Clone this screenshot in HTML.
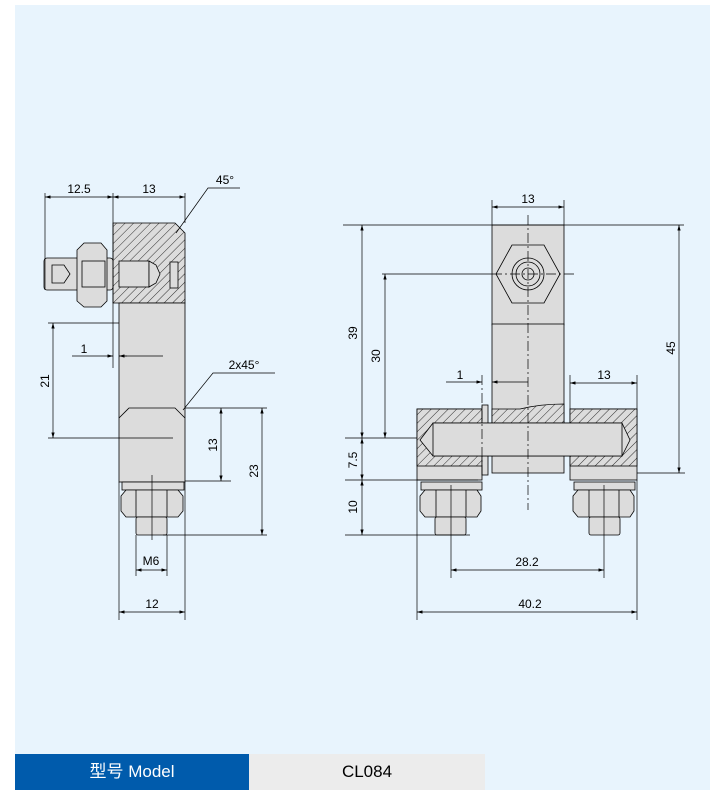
<!DOCTYPE html>
<html><head><meta charset="utf-8"><style>
body{margin:0;background:#fff;width:717px;height:796px;overflow:hidden;font-family:"Liberation Sans","Noto Sans CJK SC",sans-serif}
#p{position:absolute;left:15px;top:5px;width:695px;height:785px;background:#e8f4fd}
#b{position:absolute;left:15px;top:754px;width:234px;height:36px;background:#005bac;color:#fff;font-size:17px;line-height:36px;text-align:center}
#g{position:absolute;left:249px;top:754px;width:236px;height:36px;background:#ececec;color:#000;font-size:17px;line-height:36px;text-align:center}
svg{position:absolute;left:0;top:0}
</style></head><body>
<div id="p"></div>
<svg width="717" height="796" viewBox="0 0 717 796" font-family="Liberation Sans, sans-serif" font-size="12">
<defs>
<pattern id="h" width="6" height="6" patternUnits="userSpaceOnUse" patternTransform="rotate(45)">
<rect width="6" height="6" fill="#dcdcdc"/><line x1="0" y1="0" x2="0" y2="6" stroke="#000" stroke-width="0.8"/></pattern>
<marker id="a" viewBox="0 0 10 6" refX="10" refY="3" markerWidth="8" markerHeight="5" orient="auto-start-reverse"><path d="M0,0L10,3L0,6z" fill="#000"/></marker>
</defs>
<g stroke="#000" stroke-width="0.8" fill="#dcdcdc">
<!-- LEFT VIEW -->
<polygon points="113,223 175,223 185,233 185,303 113,303" fill="url(#h)"/>
<rect x="44" y="258" width="69" height="32" rx="3"/>
<polygon points="84,243 101,243 107,250 107,301 101,307 84,307 77,301 77,250"/>
<rect x="82" y="261" width="23" height="26"/>
<rect x="119" y="261" width="30" height="26"/>
<polygon points="149,261 156,265 160,274 156,283 149,287"/>
<polygon points="52,265 64,265 70,274 64,283 52,283"/>
<rect x="170" y="262" width="8" height="26"/>
<rect x="119" y="303" width="66" height="179"/>
<polyline points="119,418 129,408 175,408 185,418" fill="none"/>
<rect x="122" y="482" width="62" height="8"/>
<polygon points="126,490 178,490 183,496 183,511 178,517 126,517 121,511 121,496"/>
<line x1="136" y1="490" x2="136" y2="517"/><line x1="167" y1="490" x2="167" y2="517"/>
<rect x="136" y="517" width="31" height="18" rx="2"/>
<!-- RIGHT VIEW -->
<rect x="492" y="225" width="72" height="100"/>
<rect x="492" y="324" width="72" height="149"/>
<rect x="417" y="409" width="65" height="71"/>
<rect x="570" y="409" width="67" height="71"/>
<rect x="417" y="409" width="65" height="57" fill="url(#h)"/>
<rect x="570" y="409" width="67" height="57" fill="url(#h)"/>
<path d="M492,409 L492,423 L564,423 L564,404 Q540,404 520,409 Z" fill="url(#h)"/>
<rect x="482" y="405" width="6" height="70"/>
<polygon points="433,423 622,423 630,440 622,456 433,456 420,440" fill="#dcdcdc"/>
<rect x="433" y="423" width="189" height="33"/>
<polygon points="512,245 544,245 560,274 544,303 512,303 496,274"/>
<circle cx="528" cy="274" r="16"/><circle cx="528" cy="274" r="12"/><circle cx="528" cy="274" r="6"/>
<rect x="421" y="482" width="61" height="8"/>
<polygon points="425,490 477,490 481,496 481,511 477,517 425,517 420,511 420,496"/>
<line x1="436" y1="490" x2="436" y2="517"/><line x1="466" y1="490" x2="466" y2="517"/>
<rect x="435" y="517" width="31" height="18" rx="2"/>
<rect x="574" y="482" width="61" height="8"/>
<polygon points="578,490 630,490 634,496 634,511 630,517 578,517 573,511 573,496"/>
<line x1="589" y1="490" x2="589" y2="517"/><line x1="619" y1="490" x2="619" y2="517"/>
<rect x="589" y="517" width="31" height="18" rx="2"/>
</g>
<g stroke="#000" stroke-width="0.7" fill="none">
<line x1="45" y1="193" x2="45" y2="290"/><line x1="113" y1="193" x2="113" y2="368"/><line x1="185" y1="193" x2="185" y2="223"/>
<line x1="45" y1="197" x2="113" y2="197" marker-start="url(#a)" marker-end="url(#a)"/>
<line x1="113" y1="197" x2="185" y2="197" marker-start="url(#a)" marker-end="url(#a)"/>
<polyline points="176,233 208,188 240,188"/>
<polyline points="183,410 213,373 275,373"/>
<line x1="72" y1="356" x2="113" y2="356" marker-end="url(#a)"/><line x1="119" y1="356" x2="163" y2="356"/>
<line x1="127" y1="356" x2="119" y2="356" marker-end="url(#a)"/>
<line x1="48" y1="323" x2="119" y2="323"/><line x1="48" y1="438" x2="173" y2="438"/>
<line x1="53" y1="323" x2="53" y2="438" marker-start="url(#a)" marker-end="url(#a)"/>
<line x1="185" y1="408" x2="267" y2="408"/><line x1="185" y1="481" x2="231" y2="481"/><line x1="163" y1="535" x2="267" y2="535"/>
<line x1="221" y1="408" x2="221" y2="481" marker-start="url(#a)" marker-end="url(#a)"/>
<line x1="262" y1="408" x2="262" y2="535" marker-start="url(#a)" marker-end="url(#a)"/>
<line x1="136" y1="535" x2="136" y2="576"/><line x1="167" y1="535" x2="167" y2="576"/>
<line x1="136" y1="570" x2="167" y2="570" marker-start="url(#a)" marker-end="url(#a)"/>
<line x1="119" y1="482" x2="119" y2="620"/><line x1="185" y1="482" x2="185" y2="620"/>
<line x1="119" y1="612" x2="185" y2="612" marker-start="url(#a)" marker-end="url(#a)"/>
<line x1="152" y1="475" x2="152" y2="540"/>
<line x1="492" y1="200" x2="492" y2="225"/><line x1="564" y1="200" x2="564" y2="225"/>
<line x1="492" y1="207" x2="564" y2="207" marker-start="url(#a)" marker-end="url(#a)"/>
<line x1="343" y1="225" x2="684" y2="225"/>
<line x1="382" y1="274" x2="492" y2="274"/>
<line x1="362" y1="225" x2="362" y2="438" marker-start="url(#a)" marker-end="url(#a)"/>
<line x1="385" y1="274" x2="385" y2="438" marker-start="url(#a)" marker-end="url(#a)"/>
<line x1="345" y1="438" x2="417" y2="438"/>
<line x1="637" y1="473" x2="685" y2="473"/>
<line x1="679" y1="225" x2="679" y2="473" marker-start="url(#a)" marker-end="url(#a)"/>
<line x1="345" y1="480" x2="478" y2="480"/><line x1="345" y1="535" x2="470" y2="535"/>
<line x1="362" y1="438" x2="362" y2="480" marker-start="url(#a)" marker-end="url(#a)"/>
<line x1="362" y1="480" x2="362" y2="535" marker-start="url(#a)" marker-end="url(#a)"/>
<line x1="446" y1="382" x2="482" y2="382" marker-end="url(#a)"/><line x1="528" y1="382" x2="492" y2="382" marker-end="url(#a)"/>
<line x1="570" y1="375" x2="570" y2="409"/><line x1="637" y1="375" x2="637" y2="409"/>
<line x1="570" y1="383" x2="637" y2="383" marker-start="url(#a)" marker-end="url(#a)"/>
<line x1="451" y1="485" x2="451" y2="578"/><line x1="604" y1="485" x2="604" y2="578"/>
<line x1="451" y1="570" x2="604" y2="570" marker-start="url(#a)" marker-end="url(#a)"/>
<line x1="417" y1="480" x2="417" y2="620"/><line x1="637" y1="480" x2="637" y2="620"/>
<line x1="417" y1="612" x2="637" y2="612" marker-start="url(#a)" marker-end="url(#a)"/>
<g stroke-dasharray="10,3,2,3">
<line x1="528" y1="215" x2="528" y2="510"/><line x1="492" y1="274" x2="575" y2="274"/>
<line x1="482" y1="375" x2="482" y2="478"/>
</g>
</g>
<g fill="#000" text-anchor="middle">
<text x="79" y="193">12.5</text><text x="149" y="193">13</text>
<text x="225" y="184">45°</text><text x="244" y="369">2x45°</text>
<text x="84" y="353">1</text>
<text x="151" y="565">M6</text><text x="152" y="608">12</text>
<text x="528" y="203">13</text><text x="460" y="379">1</text><text x="604" y="379">13</text>
<text x="527" y="566">28.2</text><text x="530" y="608">40.2</text>
<text transform="translate(49,381) rotate(-90)">21</text>
<text transform="translate(217,445) rotate(-90)">13</text>
<text transform="translate(258,471) rotate(-90)">23</text>
<text transform="translate(357,333) rotate(-90)">39</text>
<text transform="translate(380,356) rotate(-90)">30</text>
<text transform="translate(675,348) rotate(-90)">45</text>
<text transform="translate(357,460) rotate(-90)">7.5</text>
<text transform="translate(357,507) rotate(-90)">10</text>
</g>
</svg>
<div id="b">型号 Model</div><div id="g">CL084</div>
</body></html>
